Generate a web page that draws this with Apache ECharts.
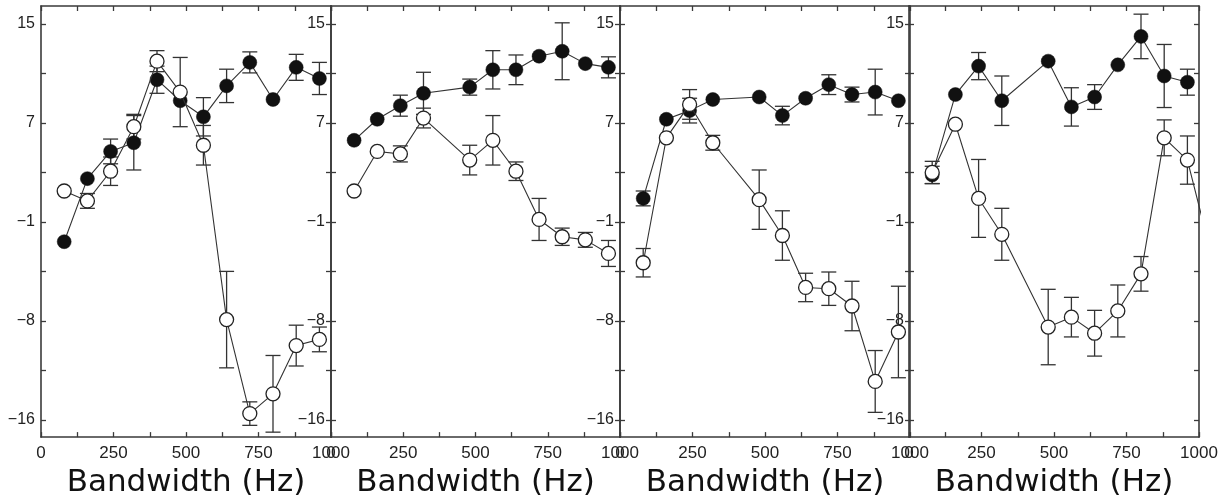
<!DOCTYPE html>
<html>
<head>
<meta charset="utf-8">
<script src="https://cdn.jsdelivr.net/npm/echarts@6/dist/echarts.min.js"></script>
<style>
html,body{margin:0;padding:0;background:#fff;}
#chart{width:1228px;height:503px;}
</style>
</head>
<body>
<div id="chart"></div>
<script>
// ---- data ----
const bwFull = [80,160,240,320,400,480,560,640,720,800,880,960];
const bwSkip = [80,160,240,320,480,560,640,720,800,880,960];
const bwSkipExt = [80,160,240,320,480,560,640,720,800,880,960,1040];

const xTickValues = [0,125,250,375,500,625,750,875,1000];
const xTickLabels = [0,250,500,750,1000];
const yTickValues = [-17,-13,-9,-5,-1,3,7,11,15];
const yLabelValues = [-17,-9,-1,7,15];
const yTickLabels = ['\u221216','\u22128','\u22121','7','15'];

// panel 1
const p1Filled    = [-2.6, 2.5, 4.7, 5.4, 10.5, 8.8, 7.5, 10.0, 11.9, 8.9, 11.5, 10.6];
const p1FilledErr = [0, 0, 1.0, 2.2, 1.1, 0, 1.55, 1.35, 0.85, 0, 1.05, 1.3];
const p1Open      = [1.5, 0.7, 3.1, 6.7, 12.0, 9.5, 5.2, -8.9, -16.5, -14.9, -11.0, -10.5];
const p1OpenErr   = [0, 0.6, 1.15, 1.0, 0.85, 2.8, 1.6, 3.9, 0.95, 3.1, 1.65, 1.0];
// panel 2
const p2Filled    = [5.6, 7.3, 8.4, 9.4, 9.9, 11.3, 11.3, 12.4, 12.8, 11.8, 11.5];
const p2FilledErr = [0, 0, 0.85, 1.7, 0.65, 1.55, 1.2, 0, 2.3, 0, 0.85];
const p2Open      = [1.5, 4.7, 4.5, 7.4, 4.0, 5.6, 3.1, -0.8, -2.2, -2.45, -3.55];
const p2OpenErr   = [0, 0, 0.65, 0.8, 1.2, 2.0, 0.75, 1.7, 0.7, 0.6, 1.05];
// panel 3
const p3Filled    = [0.9, 7.3, 8.0, 8.9, 9.1, 7.6, 9.0, 10.1, 9.3, 9.5, 8.8];
const p3FilledErr = [0.6, 0, 1.0, 0, 0, 0.75, 0, 0.8, 0.6, 1.85, 0];
const p3Open      = [-4.3, 5.8, 8.5, 5.4, 0.8, -2.1, -6.3, -6.4, -7.8, -13.9, -9.9];
const p3OpenErr   = [1.15, 0, 1.2, 0.6, 2.4, 2.0, 1.15, 1.35, 2.0, 2.5, 3.7];
// panel 4
const p4Filled    = [2.8, 9.3, 11.6, 8.8, 12.0, 8.3, 9.1, 11.7, 14.0, 10.8, 10.3];
const p4FilledErr = [0.7, 0, 1.1, 2.0, 0, 1.55, 1.0, 0, 1.8, 2.55, 1.05];
const p4Open      = [3.0, 6.9, 0.9, -2.0, -9.5, -8.7, -10.0, -8.2, -5.2, 5.8, 4.0, -3.4];
const p4OpenErr   = [0.9, 0, 3.15, 2.1, 3.05, 1.6, 1.85, 2.1, 1.4, 1.45, 1.95, 0];

const panels = [
  {fx: bwFull, f: p1Filled, fe: p1FilledErr, ox: bwFull, o: p1Open, oe: p1OpenErr},
  {fx: bwSkip, f: p2Filled, fe: p2FilledErr, ox: bwSkip, o: p2Open, oe: p2OpenErr},
  {fx: bwSkip, f: p3Filled, fe: p3FilledErr, ox: bwSkip, o: p3Open, oe: p3OpenErr},
  {fx: bwSkip, f: p4Filled, fe: p4FilledErr, ox: bwSkipExt, o: p4Open, oe: p4OpenErr}
];

// ---- layout ----
const gridLefts = [41, 331, 620, 909];
const gridWidths = [290, 289, 290, 290];
const YMIN = -18.4, YMAX = 16.46;
const frameColor = '#3a3a3a';
const textColor = '#222';

const grids = [], xAxes = [], yAxes = [], series = [];

function errRender(params, api) {
  const x = api.value(0), lo = api.value(1), hi = api.value(2);
  if (hi - lo <= 0) return null;
  const pt = api.coord([x, hi]);
  const pb = api.coord([x, lo]);
  const hw = 7.5;
  const st = {stroke: '#333', lineWidth: 1.3};
  return {
    type: 'group',
    children: [
      {type: 'line', shape: {x1: pt[0], y1: pt[1], x2: pb[0], y2: pb[1]}, style: st},
      {type: 'line', shape: {x1: pt[0]-hw, y1: pt[1], x2: pt[0]+hw, y2: pt[1]}, style: st},
      {type: 'line', shape: {x1: pb[0]-hw, y1: pb[1], x2: pb[0]+hw, y2: pb[1]}, style: st}
    ]
  };
}

panels.forEach((p, i) => {
  grids.push({left: gridLefts[i], width: gridWidths[i], top: 6, height: 436, containLabel: false});
  const axLine = {show: true, onZero: false, lineStyle: {color: frameColor, width: 1.6}};
  const tick = {show: true, inside: true, length: 5, lineStyle: {color: frameColor, width: 1.3}};
  xAxes.push({
    gridIndex: i, type: 'value', position: 'bottom', min: 0, max: 1000, interval: 125,
    axisLine: axLine,
    axisTick: Object.assign({customValues: xTickValues}, tick),
    axisLabel: {customValues: xTickLabels, formatter: v => String(v),
      fontFamily: 'Liberation Sans', fontSize: 17, color: textColor, margin: 8},
    splitLine: {show: false},
    name: 'Bandwidth (Hz)', nameLocation: 'middle', nameGap: 21,
    nameTextStyle: {fontFamily: 'DejaVu Sans', fontSize: 31, color: '#111'}
  });
  xAxes.push({
    gridIndex: i, type: 'value', position: 'top', min: 0, max: 1000, interval: 125,
    axisLine: axLine,
    axisTick: Object.assign({customValues: xTickValues}, tick),
    axisLabel: {show: false},
    splitLine: {show: false}
  });
  const yLab = {
    customValues: yLabelValues,
    formatter: v => yTickLabels[yLabelValues.indexOf(v)],
    fontFamily: 'Liberation Sans', fontSize: 16, color: textColor, margin: 6
  };
  yAxes.push({
    gridIndex: i, type: 'value', position: 'left', min: YMIN, max: YMAX,
    axisLine: axLine,
    axisTick: Object.assign({customValues: yTickValues}, tick),
    axisLabel: i === 0 ? yLab : {show: false},
    splitLine: {show: false}
  });
  yAxes.push({
    gridIndex: i, type: 'value', position: 'right', min: YMIN, max: YMAX,
    axisLine: axLine,
    axisTick: Object.assign({customValues: yTickValues}, tick),
    axisLabel: i < 3 ? Object.assign({inside: true}, yLab) : {show: false},
    splitLine: {show: false}
  });

  const xa = 2*i, ya = 2*i;
  series.push({
    type: 'custom', xAxisIndex: xa, yAxisIndex: ya, z: 1, clip: true,
    renderItem: errRender,
    data: p.fx.map((x, k) => [x, p.f[k]-p.fe[k], p.f[k]+p.fe[k]])
  });
  series.push({
    type: 'custom', xAxisIndex: xa, yAxisIndex: ya, z: 1, clip: true,
    renderItem: errRender,
    data: p.ox.map((x, k) => [x, p.o[k]-p.oe[k], p.o[k]+p.oe[k]])
  });
  series.push({
    type: 'line', xAxisIndex: xa, yAxisIndex: ya, z: 2, clip: true,
    symbol: 'circle', symbolSize: 14, showAllSymbol: true,
    lineStyle: {color: '#333', width: 1.1},
    itemStyle: {color: '#111', borderColor: '#111', borderWidth: 0.5},
    data: p.fx.map((x, k) => [x, p.f[k]])
  });
  series.push({
    type: 'line', xAxisIndex: xa, yAxisIndex: ya, z: 3, clip: true,
    symbol: 'circle', symbolSize: 14, showAllSymbol: true,
    lineStyle: {color: '#333', width: 1.1},
    itemStyle: {color: '#fff', borderColor: '#222', borderWidth: 1.3},
    data: p.ox.map((x, k) => [x, p.o[k]])
  });
});

const chart = echarts.init(document.getElementById('chart'), null, {renderer: 'canvas'});
chart.setOption({
  animation: false,
  backgroundColor: '#fff',
  grid: grids,
  xAxis: xAxes,
  yAxis: yAxes,
  series: series
});
</script>
</body>
</html>
